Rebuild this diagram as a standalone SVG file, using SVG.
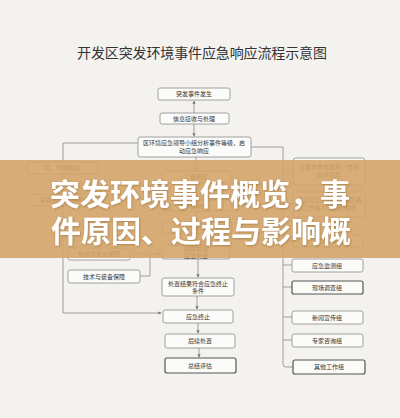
<svg xmlns="http://www.w3.org/2000/svg" width="400" height="418" viewBox="0 0 400 418">
<defs>
<marker id="ah" viewBox="0 0 6 6" refX="5" refY="3" markerWidth="4" markerHeight="4" orient="auto"><path d="M0,0 L6,3 L0,6 z" fill="#777"/></marker>
<filter id="sh" x="-5%" y="-20%" width="110%" height="140%"><feDropShadow dx="0.6" dy="0.8" stdDeviation="0.8" flood-color="#6b4a1e" flood-opacity="0.45"/></filter>
<style>
.bx{fill:#fbfbf9;stroke:#8a8a8a;stroke-width:0.8}
.bb{fill:#fbfbf9;stroke:#555;stroke-width:1.2}
.t{font-family:"Noto Sans CJK SC","Noto Sans",sans-serif;font-size:6px;fill:#333;text-anchor:middle}
.ln{fill:none;stroke:#8a8a8a;stroke-width:0.8}
.ttl{font-family:"Noto Sans CJK SC",sans-serif;font-size:14px;fill:#333}
.bn{font-family:"Noto Sans CJK SC",sans-serif;font-size:30px;font-weight:700;fill:#ffffff}
</style>
</defs>
<rect width="400" height="418" fill="#f3f2ef"/>
<text class="ttl" x="202" y="58" text-anchor="middle" textLength="250">开发区突发环境事件应急响应流程示意图</text>

<g id="connectors">
<path class="ln" d="M194,113 V101" marker-end="url(#ah)"/>
<path class="ln" d="M194,124 V136" marker-end="url(#ah)"/>
<path class="ln" d="M138,143 H63 V313 H161" marker-end="url(#ah)"/>
<path class="ln" d="M196,157 V170" marker-end="url(#ah)"/>
<path class="ln" d="M196,183 V199" marker-end="url(#ah)"/>
<path class="ln" d="M196,211 V221" marker-end="url(#ah)"/>
<path class="ln" d="M196,233 V244" marker-end="url(#ah)"/>
<path class="ln" d="M130,254 H161" marker-end="url(#ah)"/>
<path class="ln" d="M140,276 H150 V254"/>
<path class="ln" d="M198,259 V277" marker-end="url(#ah)"/>
<path class="ln" d="M197,296 V309" marker-end="url(#ah)"/>
<path class="ln" d="M198,323 V333" marker-end="url(#ah)"/>
<path class="ln" d="M199,348 V357" marker-end="url(#ah)"/>
<path class="ln" d="M251,147 H283 V364 Q283,367 286,367 H293"/>
<path class="ln" d="M232,205 H283"/>
<path class="ln" d="M283,171 H293"/>
<path class="ln" d="M283,204 H293"/>
<path class="ln" d="M283,241 H293"/>
<path class="ln" d="M283,265 H292"/>
<path class="ln" d="M283,287 H292"/>
<path class="ln" d="M283,317 H292"/>
<path class="ln" d="M283,340 H292"/>
</g>

<g id="n1"><rect class="bx" x="158" y="88" width="72" height="12" rx="2"/><text class="t" x="194" y="96">突发事件发生</text></g>
<g id="n2"><rect class="bx" x="160" y="113" width="69" height="11" rx="2"/><text class="t" x="194" y="120.5">信息接收与处理</text></g>
<g id="n3"><rect class="bx" x="138" y="137" width="113" height="20" rx="2"/><text class="t" x="194" y="145">区环境应急领导小组分析事件等级，启</text><text class="t" x="194" y="153">动应急响应</text></g>

<g id="l1"><rect class="bx" x="27" y="162" width="71" height="12" rx="2"/><text class="t" x="62" y="170">Ⅲ、Ⅳ级响应</text></g>
<g id="l2"><rect class="bx" x="29" y="194" width="70" height="12" rx="2"/><text class="t" x="64" y="202">采取应急处置措施</text></g>
<g id="l3"><rect class="bx" x="68" y="248" width="62" height="12" rx="2"/><text class="t" x="99" y="256">物资与安全保障</text></g>
<g id="l4"><rect class="bx" x="68" y="270" width="72" height="13" rx="2"/><text class="t" x="104" y="278.5">技术与装备保障</text></g>

<g id="m1"><rect class="bx" x="162" y="171" width="69" height="12" rx="2"/><text class="t" x="196" y="179">Ⅰ级响应</text></g>
<g id="m2"><rect class="bx" x="162" y="200" width="69" height="11" rx="2"/><text class="t" x="196" y="207.5">Ⅱ级响应</text></g>
<g id="m3"><rect class="bx" x="162" y="222" width="70" height="11" rx="2"/><text class="t" x="196" y="229.5">应急处置</text></g>
<g id="m4"><rect class="bx" x="162" y="245" width="68" height="14" rx="2"/><text class="t" x="196" y="251">指挥协调</text><text class="t" x="196" y="257.5">应急处置</text></g>
<g id="m5"><rect class="bx" x="162" y="278" width="72" height="18" rx="2"/><text class="t" x="198" y="285.5">处置结果符合应急终止</text><text class="t" x="198" y="293">条件</text></g>
<g id="m6"><rect class="bx" x="163" y="310" width="70" height="13" rx="2"/><text class="t" x="198" y="318.5">应急终止</text></g>
<g id="m7"><rect class="bx" x="165" y="334" width="70" height="14" rx="2"/><text class="t" x="200" y="343">后续处置</text></g>
<g id="m8"><rect class="bb" x="165" y="358" width="71" height="15" rx="2"/><text class="t" x="200" y="367.5">总结评估</text></g>

<g id="r1"><rect class="bx" x="293" y="158" width="72" height="27" rx="3"/><text class="t" x="329" y="169">上报市委市政府、市生</text><text class="t" x="329" y="177">态环境局</text></g>
<g id="r2"><rect class="bx" x="293" y="192" width="72" height="25" rx="3"/><text class="t" x="329" y="202">成立应急现场指挥部及各</text><text class="t" x="329" y="210">工作组人员赶赴现场</text></g>
<g id="r3"><rect class="bx" x="293" y="235" width="70" height="12" rx="2"/><text class="t" x="328" y="243">应急指挥组</text></g>
<g id="r4"><rect class="bx" x="292" y="259" width="71" height="13" rx="2"/><text class="t" x="327" y="267.5">应急监测组</text></g>
<g id="r5"><rect class="bb" x="292" y="281" width="71" height="13" rx="2"/><text class="t" x="327" y="289.5">现场调查组</text></g>
<g id="r6"><rect class="bx" x="292" y="311" width="71" height="13" rx="2"/><text class="t" x="327" y="319.5">新闻宣传组</text></g>
<g id="r7"><rect class="bx" x="292" y="334" width="71" height="13" rx="2"/><text class="t" x="327" y="342.5">专家咨询组</text></g>
<g id="r8"><rect class="bb" x="293" y="360" width="72" height="14" rx="2"/><text class="t" x="329" y="369">其他工作组</text></g>

<g id="banner">
<rect x="0" y="160" width="400" height="98" fill="#d4a469" fill-opacity="0.9"/>
<g filter="url(#sh)">
<text class="bn" x="50" y="205" textLength="300">突发环境事件概览，事</text>
<text class="bn" x="51" y="242" textLength="300">件原因、过程与影响概</text>
</g>
</g>
</svg>
